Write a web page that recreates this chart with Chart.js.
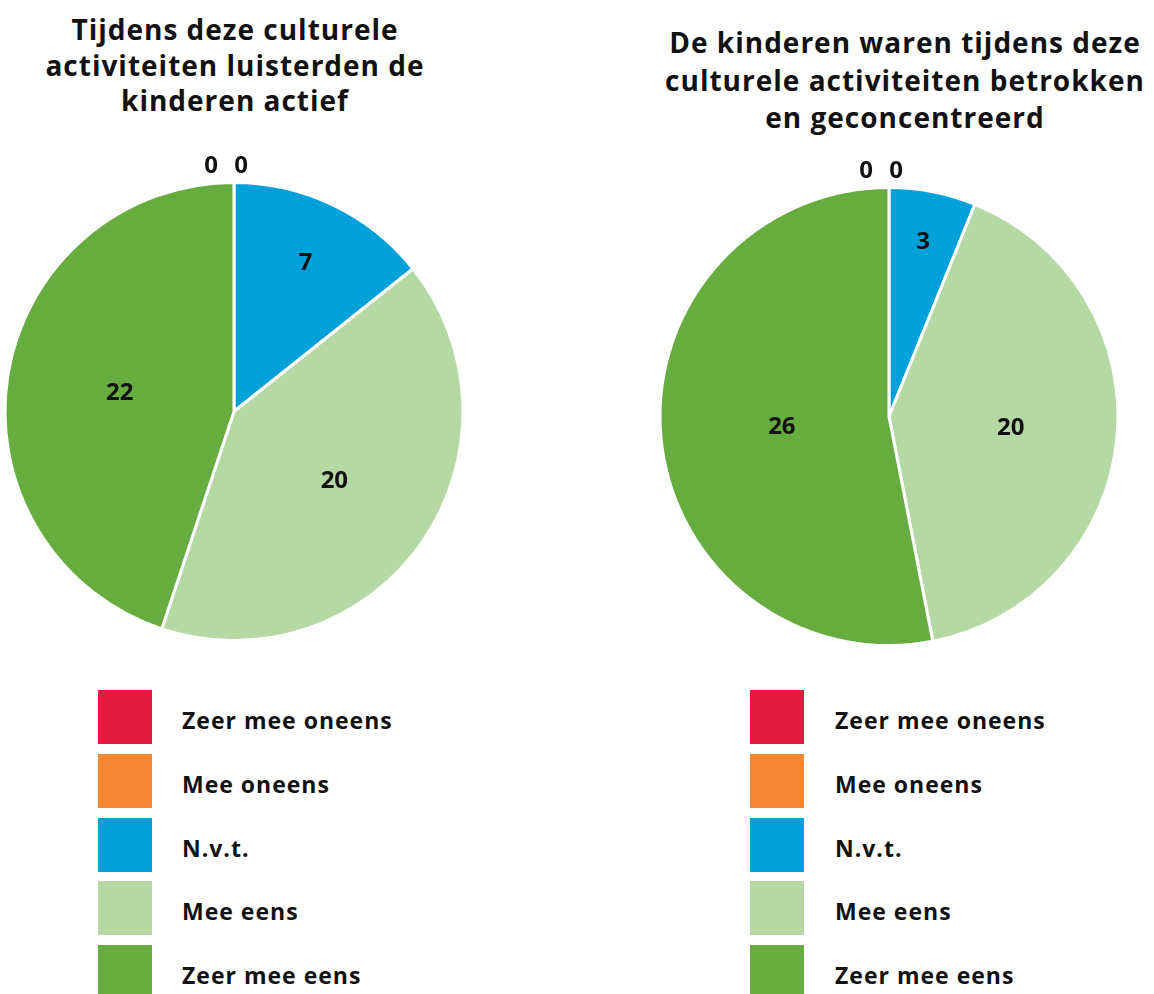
<!DOCTYPE html>
<html>
<head>
<meta charset="utf-8">
<script src="https://cdn.jsdelivr.net/npm/chart.js@4/dist/chart.umd.min.js"></script>
<style>
  body { margin: 0; background: #fff; font-family: "Open Sans", Lato, sans-serif; }
  #wrap { position: relative; width: 1154px; height: 994px; overflow: hidden; }
  .title { position: absolute; font-weight: 700; font-size: 28px; letter-spacing: 1px; text-align: center; color: #111; white-space: nowrap; }
  .pie { position: absolute; }
  .legend { position: absolute; }
  .legend .row { position: relative; height: 54px; margin-bottom: 9.75px; }
  .legend .box { position: absolute; left: 0; top: 0; width: 54px; height: 54px; }
  .legend .txt { position: absolute; top: 14px; font-weight: 700; font-size: 23px; letter-spacing: 1px; color: #111; white-space: nowrap; }
</style>
</head>
<body>
<div id="wrap">
  <div class="title" id="title1" style="left:35px; top:12px; width:400px; line-height:35.5px;"></div>
  <div class="title" id="title2" style="left:655px; top:24px; width:500px; line-height:37.5px;"></div>
  <canvas class="pie" id="pie1" width="468" height="520" style="left:0; top:140px;"></canvas>
  <canvas class="pie" id="pie2" width="468" height="520" style="left:655px; top:145px;"></canvas>
  <div class="legend" id="legend1" style="left:98px; top:690px;"></div>
  <div class="legend" id="legend2" style="left:750px; top:690px;"></div>
</div>
<script>
const categories = ['Zeer mee oneens', 'Mee oneens', 'N.v.t.', 'Mee eens', 'Zeer mee eens'];
const colors = ['#e31b3e', '#f58634', '#00a0db', '#b5d8a5', '#66ac3f'];
const luisterden = [0, 0, 7, 20, 22];
const betrokken = [0, 0, 3, 20, 26];
const title1 = ['Tijdens deze culturele', 'activiteiten luisterden de', 'kinderen actief'];
const title2 = ['De kinderen waren tijdens deze', 'culturele activiteiten betrokken', 'en geconcentreerd'];

document.getElementById('title1').innerHTML = title1.join('<br>');
document.getElementById('title2').innerHTML = title2.join('<br>');

function buildLegend(id, textLeft) {
  const el = document.getElementById(id);
  categories.forEach((c, i) => {
    const row = document.createElement('div');
    row.className = 'row';
    row.innerHTML = '<div class="box" style="background:' + colors[i] + '"></div>' +
      '<div class="txt" style="left:' + textLeft + 'px">' + c + '</div>';
    el.appendChild(row);
  });
}
buildLegend('legend1', 84);
buildLegend('legend2', 85);

// value labels: inside the slice, zero values above the top of the pie
const valueLabels = {
  id: 'valueLabels',
  afterDatasetsDraw(chart) {
    const ctx = chart.ctx;
    const meta = chart.getDatasetMeta(0);
    const values = chart.data.datasets[0].data;
    ctx.save();
    ctx.font = 'bold 24px "Open Sans", sans-serif';
    ctx.fillStyle = '#111';
    ctx.textAlign = 'center';
    ctx.textBaseline = 'middle';
    const zeros = [];
    meta.data.forEach((arc, i) => {
      const p = arc.getProps(['x', 'y', 'startAngle', 'endAngle', 'outerRadius'], true);
      if (values[i] === 0) { zeros.push({ i, p }); return; }
      const span = p.endAngle - p.startAngle;
      const mid = (p.startAngle + p.endAngle) / 2;
      const frac = 0.47 + 0.35 * (1 - Math.min(1, span / Math.PI));
      const r = p.outerRadius * frac;
      ctx.fillText(String(values[i]), p.x + Math.cos(mid) * r, p.y + Math.sin(mid) * r);
    });
    zeros.forEach((z, k) => {
      const p = z.p;
      const dx = (k - (zeros.length - 1) / 2) * 30 - 8;
      ctx.fillText('0', p.x + dx, p.y - p.outerRadius - 16);
    });
    ctx.restore();
  }
};

function makePie(id, values) {
  return new Chart(document.getElementById(id), {
    type: 'pie',
    data: {
      labels: categories,
      datasets: [{
        data: values,
        backgroundColor: colors,
        borderColor: '#fff',
        borderWidth: 3
      }]
    },
    options: {
      responsive: false,
      animation: false,
      layout: { padding: { top: 41, bottom: 18, left: 3.5, right: 3.5 } },
      plugins: {
        legend: { display: false },
        tooltip: { enabled: false }
      }
    },
    plugins: [valueLabels]
  });
}

makePie('pie1', luisterden);
makePie('pie2', betrokken);
</script>
</body>
</html>
